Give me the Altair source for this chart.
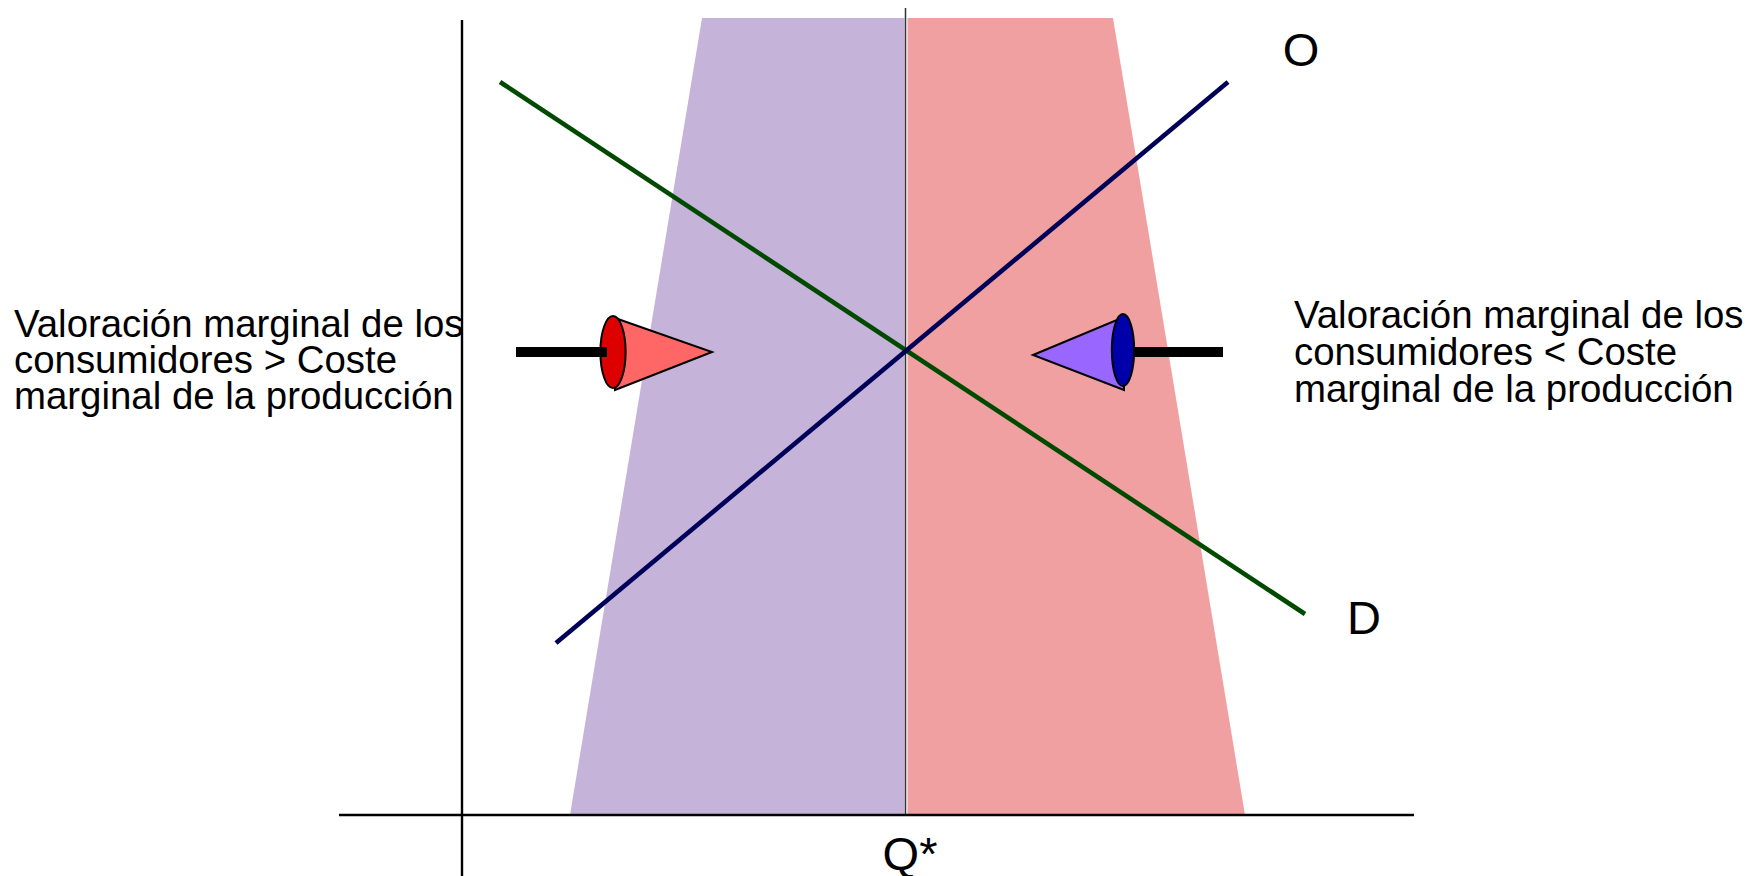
import altair as alt
import pandas as pd

# Coordinate system: units measured from the origin of the Q / P axes
X_MIN, X_MAX = -454, 1283
Y_MIN, Y_MAX = -61, 807

# Shaded regions (left of Q*: under-production, right of Q*: over-production)
purple_y = [0, 797]
purple_x_left = [108, 240]
purple_x_right = [442.5, 442.5]
pink_y = [0, 797]
pink_x_left = [445.5, 445.5]
pink_x_right = [783, 651]

# Demand (D) and supply (O) curves
demand_q = [38, 843]
demand_p = [733, 201]
supply_q = [94, 766]
supply_p = [172, 733]

# Axes and Q* reference line
yaxis_q = [0]
yaxis_p = [-61]
yaxis_p2 = [795]
xaxis_q = [-123]
xaxis_q2 = [952]
xaxis_p = [0]
qstar_q = [443.5]
qstar_p = [0]
qstar_p2 = [807]

# Arrow cones (left points right, right points left)
left_cone_q = [153, 250]
left_cone_top = [497, 463]
left_cone_bottom = [425, 463]
right_cone_q = [571, 662]
right_cone_top = [460, 498]
right_cone_bottom = [460, 425]
ellipse_q = [151, 661]
ellipse_p = [463, 465]
ellipse_colors = ["#DD0000", "#0000AA"]
shaft_q = [54, 671]
shaft_q2 = [145, 761]
shaft_p = [463, 463]

# Texts
left_lines = ["Valoración marginal de los", "consumidores > Coste", "marginal de la producción"]
left_q = [-448, -448, -448]
left_p = [478, 442, 406]
right_lines = ["Valoración marginal de los", "consumidores < Coste", "marginal de la producción"]
right_q = [832, 832, 832]
right_p = [487, 450, 413]
curve_labels = ["O", "D", "Q*"]
curve_label_q = [839, 902, 448]
curve_label_p = [749, 181, -55]

xs = alt.Scale(domain=[X_MIN, X_MAX], nice=False, zero=False)
ys = alt.Scale(domain=[Y_MIN, Y_MAX], nice=False, zero=False)


def X(f="x"):
    return alt.X(f"{f}:Q", scale=xs, axis=None)


def Y(f="y"):
    return alt.Y(f"{f}:Q", scale=ys, axis=None)


purple = alt.Chart(pd.DataFrame({"y": purple_y, "x": purple_x_left, "x2": purple_x_right})).mark_area(
    orient="horizontal", color="#C5B3D9", opacity=1
).encode(y=Y(), x=X(), x2="x2:Q")

pink = alt.Chart(pd.DataFrame({"y": pink_y, "x": pink_x_left, "x2": pink_x_right})).mark_area(
    orient="horizontal", color="#F1A0A1", opacity=1
).encode(y=Y(), x=X(), x2="x2:Q")

qline = alt.Chart(pd.DataFrame({"x": qstar_q, "y": qstar_p, "y2": qstar_p2})).mark_rule(
    color="#333333", strokeWidth=1.5
).encode(x=X(), y=Y(), y2="y2:Q")

yaxis = alt.Chart(pd.DataFrame({"x": yaxis_q, "y": yaxis_p, "y2": yaxis_p2})).mark_rule(
    color="black", strokeWidth=2.4
).encode(x=X(), y=Y(), y2="y2:Q")

xaxis = alt.Chart(pd.DataFrame({"x": xaxis_q, "x2": xaxis_q2, "y": xaxis_p})).mark_rule(
    color="black", strokeWidth=2.4
).encode(x=X(), x2="x2:Q", y=Y())

demand = alt.Chart(pd.DataFrame({"x": demand_q, "y": demand_p})).mark_line(
    color="#004A00", strokeWidth=4.6
).encode(x=X(), y=Y())

supply = alt.Chart(pd.DataFrame({"x": supply_q, "y": supply_p})).mark_line(
    color="#000058", strokeWidth=4.6
).encode(x=X(), y=Y())

left_cone = alt.Chart(pd.DataFrame({"x": left_cone_q, "y": left_cone_top, "y2": left_cone_bottom})).mark_area(
    orient="vertical", color="#FF6666", stroke="black", strokeWidth=2, opacity=1
).encode(x=X(), y=Y(), y2="y2:Q")

right_cone = alt.Chart(pd.DataFrame({"x": right_cone_q, "y": right_cone_top, "y2": right_cone_bottom})).mark_area(
    orient="vertical", color="#9966FF", stroke="black", strokeWidth=2, opacity=1
).encode(x=X(), y=Y(), y2="y2:Q")

ell_df = pd.DataFrame({"x": ellipse_q, "y": ellipse_p, "c": ellipse_colors})
left_ellipse = alt.Chart(ell_df.iloc[[0]]).mark_point(
    shape="M0,-1A0.35,1 0 1,1 0,1A0.35,1 0 1,1 0,-1Z",
    size=5184, filled=True, stroke="black", strokeWidth=2, opacity=1,
).encode(x=X(), y=Y(), fill=alt.Fill("c:N", scale=None))

right_ellipse = alt.Chart(ell_df.iloc[[1]]).mark_point(
    shape="M0,-1A0.31,1 0 1,1 0,1A0.31,1 0 1,1 0,-1Z",
    size=5184, filled=True, stroke="black", strokeWidth=2, opacity=1,
).encode(x=X(), y=Y(), fill=alt.Fill("c:N", scale=None))

shafts = alt.Chart(pd.DataFrame({"x": shaft_q, "x2": shaft_q2, "y": shaft_p})).mark_rule(
    color="black", strokeWidth=10
).encode(x=X(), x2="x2:Q", y=Y())

left_text = alt.Chart(pd.DataFrame({"x": left_q, "y": left_p, "t": left_lines})).mark_text(
    align="left", baseline="alphabetic", font="Liberation Sans", fontSize=38.4, color="black"
).encode(x=X(), y=Y(), text="t:N")

right_text = alt.Chart(pd.DataFrame({"x": right_q, "y": right_p, "t": right_lines})).mark_text(
    align="left", baseline="alphabetic", font="Liberation Sans", fontSize=38.4, color="black"
).encode(x=X(), y=Y(), text="t:N")

labels = alt.Chart(pd.DataFrame({"x": curve_label_q, "y": curve_label_p, "t": curve_labels})).mark_text(
    align="center", baseline="alphabetic", font="Liberation Sans", fontSize=47, color="black"
).encode(x=X(), y=Y(), text="t:N")

chart = alt.layer(
    purple, pink, qline, yaxis, xaxis, demand, supply,
    left_cone, left_ellipse, right_cone, right_ellipse, shafts,
    left_text, right_text, labels,
).properties(
    width=1737, height=868, padding=0, autosize="none", background="white"
).configure_view(stroke=None)

chart.save("out.html", embed_options={"renderer": "svg", "actions": False})
